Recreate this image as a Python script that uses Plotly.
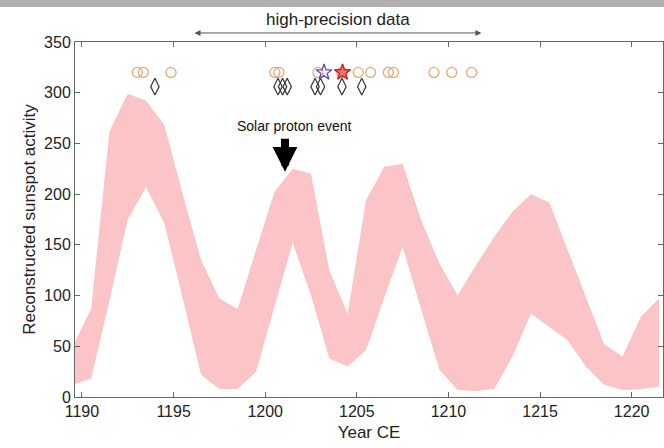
import plotly.graph_objects as go

# Band (reconstructed sunspot activity range)
years = [1189.5, 1190.5, 1191.5, 1192.5, 1193.5, 1194.5, 1195.5, 1196.5, 1197.5, 1198.5,
         1199.5, 1200.5, 1201.5, 1202.5, 1203.5, 1204.5, 1205.5, 1206.5, 1207.5, 1208.5,
         1209.5, 1210.5, 1211.5, 1212.5, 1213.5, 1214.5, 1215.5, 1216.5, 1217.5, 1218.5,
         1219.5, 1220.5, 1221.5]
upper = [50, 87, 262, 299, 292, 268, 200, 135, 97, 87,
         145, 202, 225, 220, 125, 82, 194, 227, 230, 175,
         132, 100, 130, 158, 183, 200, 192, 145, 98, 52,
         40, 79, 97]
lower = [12, 18, 95, 175, 207, 171, 97, 22, 8, 8,
         25, 88, 152, 100, 38, 30, 46, 98, 148, 87,
         27, 7, 6, 8, 40, 82, 69, 56, 30, 12,
         7, 8, 10]

# Event markers
circle_years = [1193.02, 1193.35, 1194.86, 1200.53, 1200.75, 1202.88, 1204.19, 1205.08,
                1205.75, 1206.72, 1207.0, 1209.21, 1210.18, 1211.27]
circle_vals = [320] * len(circle_years)
diamond_years = [1193.98, 1200.7, 1200.95, 1201.2, 1202.72, 1203.02, 1204.19, 1205.27]
diamond_vals = [306] * len(diamond_years)
blue_star_years = [1203.21]
blue_star_vals = [320]
red_star_years = [1204.22]
red_star_vals = [320]

x_ticks = [1190, 1195, 1200, 1205, 1210, 1215, 1220]
y_ticks = [0, 50, 100, 150, 200, 250, 300, 350]

FONT = "Arial, Liberation Sans, sans-serif"

fig = go.Figure()
fig.add_trace(go.Scatter(x=years, y=lower, mode="lines", line=dict(width=0),
                         showlegend=False, hoverinfo="skip"))
fig.add_trace(go.Scatter(x=years, y=upper, mode="lines", line=dict(width=0),
                         fill="tonexty", fillcolor="rgb(251,197,199)",
                         showlegend=False, hoverinfo="skip"))
fig.add_trace(go.Scatter(x=circle_years, y=circle_vals, mode="markers",
                         marker=dict(symbol="circle-open", size=10,
                                     line=dict(color="rgb(226,170,120)", width=1.3),
                                     color="rgb(226,170,120)"),
                         showlegend=False))
fig.add_trace(go.Scatter(x=diamond_years, y=diamond_vals, mode="markers",
                         marker=dict(symbol="diamond-tall-open", size=12,
                                     line=dict(color="rgb(55,55,55)", width=1.2),
                                     color="rgb(55,55,55)"),
                         showlegend=False))
fig.add_trace(go.Scatter(x=blue_star_years, y=blue_star_vals, mode="markers",
                         marker=dict(symbol="star-open", size=12,
                                     line=dict(color="rgb(90,80,190)", width=1.3),
                                     color="rgb(90,80,190)"),
                         showlegend=False))
fig.add_trace(go.Scatter(x=red_star_years, y=red_star_vals, mode="markers",
                         marker=dict(symbol="star", size=12,
                                     color="rgba(235,100,95,0.85)",
                                     line=dict(color="rgb(215,35,35)", width=1.5)),
                         showlegend=False))

# top double arrow + text
fig.add_annotation(x=1211.8, y=1.0254, xref="x", yref="paper",
                   ax=1196.06, ay=0, axref="x", ayref="pixel",
                   showarrow=True, arrowside="end+start", arrowhead=2,
                   arrowsize=1.2, arrowwidth=1, arrowcolor="#555", text="")
fig.add_annotation(x=1203.97, y=1.062, xref="x", yref="paper", text="high-precision data",
                   yanchor="middle", xanchor="center",
                   showarrow=False, font=dict(family=FONT, size=17, color="#222"))

# Solar proton event
fig.add_annotation(x=1201.6, y=267, xref="x", yref="y", text="Solar proton event",
                   yanchor="middle", xanchor="center",
                   showarrow=False, font=dict(family=FONT, size=14, color="#111"))
fig.add_annotation(x=1201.08, y=222, xref="x", yref="y",
                   ax=1201.08, ay=256, axref="x", ayref="y",
                   showarrow=True, arrowhead=2, arrowsize=0.62, arrowwidth=8,
                   arrowcolor="black", text="")

# grey strip at very top (photo artifact)
fig.add_shape(type="rect", xref="paper", yref="paper",
              x0=-0.2, x1=1.1, y0=1 + 35 / 355, y1=1.2,
              fillcolor="rgb(175,175,175)", line=dict(width=0), layer="below")

axis_common = dict(showline=True, linecolor="#666", linewidth=1, mirror="ticks",
                   ticks="inside", ticklen=5, tickcolor="#666", showgrid=False,
                   zeroline=False, automargin=False,
                   tickfont=dict(family=FONT, size=16, color="#222"))

fig.update_xaxes(range=[1189.62, 1221.71], tickvals=x_ticks,
                 title=dict(text="Year CE", font=dict(family=FONT, size=17, color="#222"),
                            standoff=6),
                 **axis_common)
fig.update_yaxes(range=[0, 350], tickvals=y_ticks,
                 title=dict(text="Reconstructed sunspot activity",
                            font=dict(family=FONT, size=17, color="#222"), standoff=4),
                 **axis_common)

fig.update_layout(width=664, height=448,
                  margin=dict(l=75, r=1, t=42, b=51),
                  paper_bgcolor="white", plot_bgcolor="white",
                  showlegend=False)

fig.write_html("out.html", config={"displayModeBar": False},
               post_script="document.body.style.margin='0';document.body.style.padding='0';")
